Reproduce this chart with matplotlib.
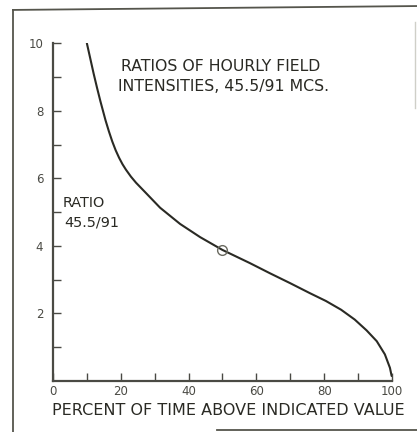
import matplotlib
matplotlib.use("Agg")
import matplotlib.pyplot as plt
from matplotlib.lines import Line2D

# Data
percent_time = [10, 11, 12, 13, 14, 15.5, 16.5, 17.5, 18.5, 19.5, 20.5, 21.5, 23, 24.5, 27.1,
                31.6, 37.5, 43.4, 50, 58.1, 64.0, 69.9, 75.8, 80.5, 85.0, 89.0, 92.5, 95.5,
                97.9, 99.4, 99.9]
ratio = [10.0, 9.55, 9.1, 8.68, 8.28, 7.72, 7.39, 7.09, 6.83, 6.61, 6.42, 6.26, 6.05, 5.87, 5.6,
         5.13, 4.65, 4.26, 3.88, 3.49, 3.19, 2.90, 2.60, 2.37, 2.11, 1.82, 1.50, 1.18,
         0.79, 0.39, 0.15]
median_point_x = [50]
median_point_y = [3.88]
x_ticks = [0, 10, 20, 30, 40, 50, 60, 70, 80, 90, 100]
x_tick_labels = ["0", "", "20", "", "40", "", "60", "", "80", "", "100"]
y_ticks = [1, 2, 3, 4, 5, 6, 7, 8, 9, 10]
y_tick_labels = ["", "2", "", "4", "", "6", "", "8", "", "10"]

ink = "#2a2a24"
grey = "#4a4a44"

fig = plt.figure(figsize=(4.17, 4.32), dpi=100)
ax = fig.add_axes([0.127, 0.118, 0.813, 0.782])

ax.plot(percent_time, ratio, color=ink, lw=1.5, solid_capstyle="round",
        solid_joinstyle="round")
ax.plot(median_point_x, median_point_y, "o", mfc="none", mec="#6a6a60", ms=7, mew=1.0)

ax.set_xlim(0, 100)
ax.set_ylim(0, 10)
for s in ["top", "right"]:
    ax.spines[s].set_visible(False)
for s in ["left", "bottom"]:
    ax.spines[s].set_color(grey)
    ax.spines[s].set_linewidth(1.6)

ax.set_xticks(x_ticks)
ax.set_xticklabels(x_tick_labels)
ax.set_yticks(y_ticks)
ax.set_yticklabels(y_tick_labels)
ax.tick_params(axis="both", direction="in", length=6, width=1.0, color=grey,
               labelsize=8.5, labelcolor=grey)
ax.tick_params(axis="x", pad=3)
ax.tick_params(axis="y", pad=7)

ax.set_xlabel("PERCENT OF TIME ABOVE INDICATED VALUE", fontsize=11.5, color=ink,
              va="center")
ax.xaxis.set_label_coords(0.516, -0.086)

fig.text(0.530, 0.845, "RATIOS OF HOURLY FIELD", ha="center", va="center",
         fontsize=11.3, color=ink)
fig.text(0.537, 0.799, "INTENSITIES, 45.5/91 MCS.", ha="center", va="center",
         fontsize=11.3, color=ink)

ax.text(2.9, 5.27, "RATIO", ha="left", va="center", fontsize=10.4, color=ink)
ax.text(3.2, 4.7, "45.5/91", ha="left", va="center", fontsize=10.4, color=ink)

# Outer frame of the scanned figure
frame_color = "#55554c"
fig.add_artist(Line2D([0.031, 0.031], [0.977, 0.0], color=frame_color, lw=1.3,
                      transform=fig.transFigure))
fig.add_artist(Line2D([0.031, 1.0], [0.977, 0.986], color=frame_color, lw=1.3,
                      transform=fig.transFigure))
fig.add_artist(Line2D([0.995, 0.995], [0.95, 0.75], color="#cfcfc8", lw=1.0,
                      transform=fig.transFigure))
fig.add_artist(Line2D([0.52, 1.0], [0.004, 0.004], color=frame_color, lw=1.3,
                      transform=fig.transFigure))

fig.savefig("out.png", dpi=100)
